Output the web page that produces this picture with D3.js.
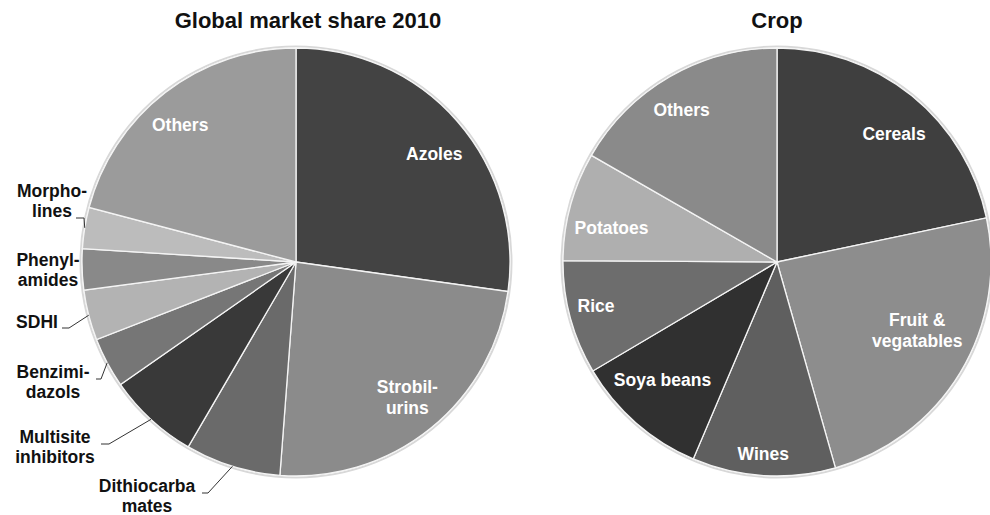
<!DOCTYPE html>
<html>
<head>
<meta charset="utf-8">
<script src="https://cdn.jsdelivr.net/npm/d3@7"></script>
<style>
  body { margin: 0; background: #fff; }
  text { font-family: "Liberation Sans", Arial, sans-serif; font-weight: bold; }
</style>
</head>
<body>
<svg id="chart" width="990" height="515"></svg>
<script>
// left pie: fungicide classes, market share 2010 (%)
const fungClasses = ['Azoles', 'Strobilurins', 'Dithiocarbamates', 'Multisite inhibitors',
  'Benzimidazols', 'SDHI', 'Phenylamides', 'Morpholines', 'Others'];
const fungShare = [27.2, 24.0, 7.2, 6.9, 3.8, 3.8, 3.1, 3.1, 20.9];
const fungColors = ['#434343', '#8b8b8b', '#6a6a6a', '#393939', '#767676', '#b3b3b3', '#898989', '#bcbcbc', '#9b9b9b'];

// right pie: crops (%)
const crops = ['Cereals', 'Fruit & vegatables', 'Wines', 'Soya beans', 'Rice', 'Potatoes', 'Others'];
const cropShare = [21.7, 23.9, 10.8, 10.1, 8.6, 8.2, 16.7];
const cropColors = ['#3f3f3f', '#8d8d8d', '#5f5f5f', '#303030', '#6d6d6d', '#afafaf', '#8a8a8a'];

const R = 214;
const FS = 17.5;
const svg = d3.select('#chart');

// inside labels: lines, radius factor, angle nudge (deg) from the slice middle
const fungInside = {
  'Azoles': {lines: ['Azoles'], k: 0.82, da: 3},
  'Strobilurins': {lines: ['Strobil-', 'urins'], k: 0.82, da: -0.5},
  'Others': {lines: ['Others'], k: 0.84, da: -2.5}
};
// outside labels: text centre x, first baseline y, leader polyline (label end, elbow)
const fungOutside = {
  'Morpholines': {lines: ['Morpho-', 'lines'], x: 52, y: 197, lead: [[76, 218], [84, 218]]},
  'Phenylamides': {lines: ['Phenyl-', 'amides'], x: 48, y: 266, lead: null},
  'SDHI': {lines: ['SDHI'], x: 37, y: 328, lead: [[62, 328], [69, 328]]},
  'Benzimidazols': {lines: ['Benzimi-', 'dazols'], x: 53, y: 378, lead: [[96, 379], [101, 379]]},
  'Multisite inhibitors': {lines: ['Multisite', 'inhibitors'], x: 55, y: 443, lead: [[101, 444], [109, 444]]},
  'Dithiocarbamates': {lines: ['Dithiocarba', 'mates'], x: 147, y: 492, lead: [[202, 493], [208, 493]]}
};
const cropInside = {
  'Cereals': {lines: ['Cereals'], k: 0.81, da: 3.4},
  'Fruit & vegatables': {lines: ['Fruit &', 'vegatables'], k: 0.73, da: -5},
  'Wines': {lines: ['Wines'], k: 0.9, da: 0.5},
  'Soya beans': {lines: ['Soya beans'], k: 0.77, da: 2.8},
  'Rice': {lines: ['Rice'], k: 0.87, da: 1.5},
  'Potatoes': {lines: ['Potatoes'], k: 0.79, da: -3.4},
  'Others': {lines: ['Others'], k: 0.84, da: -2}
};

function drawPie(cx, cy, title, titleX, names, values, colors, inside, outside) {
  const pie = d3.pie().sort(null).value(d => d.v);
  const arcs = pie(names.map((n, i) => ({name: n, v: values[i], c: colors[i]})));
  const arc = d3.arc().innerRadius(0).outerRadius(R);
  const g = svg.append('g').attr('transform', `translate(${cx},${cy})`);

  g.append('circle').attr('r', R + 1.5).attr('fill', 'none')
    .attr('stroke', '#d8d8d8').attr('stroke-width', 2);

  g.selectAll('path').data(arcs).enter().append('path')
    .attr('d', arc)
    .attr('fill', d => d.data.c)
    .attr('stroke', '#f4f4f4')
    .attr('stroke-width', 1.3);

  svg.append('text').attr('x', titleX).attr('y', 28)
    .attr('text-anchor', 'middle').attr('font-size', 22).attr('fill', '#111')
    .text(title);

  arcs.forEach(d => {
    const lab = inside[d.data.name];
    if (!lab) return;
    const a = (d.startAngle + d.endAngle) / 2 + lab.da * Math.PI / 180;
    const r = R * lab.k;
    const x = r * Math.sin(a), y = -r * Math.cos(a);
    const lh = 21;
    const y0 = y - (lab.lines.length - 1) * lh / 2 + 6;
    lab.lines.forEach((t, i) => {
      g.append('text').attr('x', x).attr('y', y0 + i * lh)
        .attr('text-anchor', 'middle').attr('font-size', FS).attr('fill', '#fff')
        .text(t);
    });
  });

  if (!outside) return;
  arcs.forEach(d => {
    const lab = outside[d.data.name];
    if (!lab) return;
    lab.lines.forEach((t, i) => {
      svg.append('text').attr('x', lab.x).attr('y', lab.y + i * 20)
        .attr('text-anchor', 'middle').attr('font-size', FS).attr('fill', '#111')
        .text(t);
    });
    if (lab.lead) {
      const a = (d.startAngle + d.endAngle) / 2;
      const edge = [cx + R * Math.sin(a), cy - R * Math.cos(a)];
      svg.append('path')
        .attr('d', d3.line()(lab.lead.concat([edge])))
        .attr('fill', 'none').attr('stroke', '#333').attr('stroke-width', 1);
    }
  });
}

drawPie(296, 262, 'Global market share 2010', 308, fungClasses, fungShare, fungColors, fungInside, fungOutside);
drawPie(777, 262, 'Crop', 777, crops, cropShare, cropColors, cropInside, null);
</script>
</body>
</html>
